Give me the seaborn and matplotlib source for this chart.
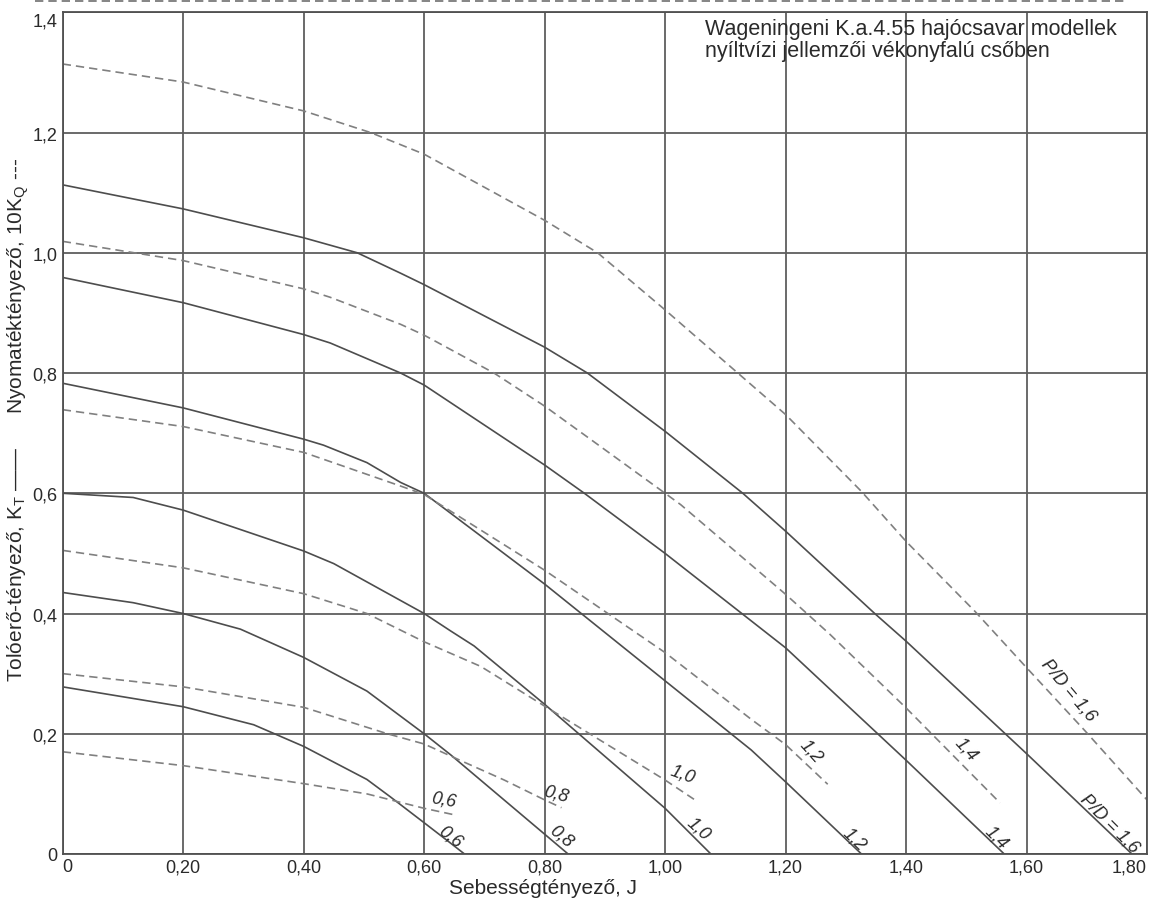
import matplotlib
matplotlib.use("Agg")
import matplotlib.pyplot as plt
import seaborn as sns
import pandas as pd
from matplotlib.lines import Line2D

# %% data: J vs K_T (solid) and 10K_Q (dashed) per P/D
J_kt_06 = [0, 0.2, 0.317, 0.4, 0.505, 0.544, 0.6, 0.644, 0.667]
kt_06 = [0.278, 0.245, 0.215, 0.179, 0.124, 0.095, 0.052, 0.018, 0.0]
J_kq_06 = [0, 0.2, 0.4, 0.505, 0.6, 0.651]
kq_06 = [0.170, 0.147, 0.117, 0.100, 0.076, 0.065]

J_kt_08 = [0, 0.117, 0.2, 0.295, 0.4, 0.505, 0.6, 0.644, 0.8, 0.839]
kt_08 = [0.435, 0.418, 0.400, 0.374, 0.327, 0.271, 0.200, 0.165, 0.033, 0.0]
J_kq_08 = [0, 0.2, 0.4, 0.539, 0.6, 0.666, 0.733, 0.8, 0.828]
kq_08 = [0.300, 0.278, 0.244, 0.200, 0.183, 0.153, 0.123, 0.090, 0.077]

J_kt_10 = [0, 0.117, 0.2, 0.4, 0.45, 0.6, 0.644, 0.683, 0.8, 1.0, 1.076]
kt_10 = [0.600, 0.593, 0.572, 0.504, 0.483, 0.400, 0.371, 0.346, 0.249, 0.076, 0.0]
J_kq_10 = [0, 0.2, 0.4, 0.505, 0.6, 0.694, 0.8, 1.0, 1.048]
kq_10 = [0.505, 0.476, 0.433, 0.400, 0.353, 0.312, 0.246, 0.123, 0.091]

J_kt_12 = [0, 0.2, 0.4, 0.433, 0.505, 0.561, 0.6, 0.8, 1.0, 1.143, 1.2, 1.326]
kt_12 = [0.783, 0.742, 0.690, 0.680, 0.651, 0.618, 0.600, 0.449, 0.288, 0.173, 0.120, 0.0]
J_kq_12 = [0, 0.2, 0.4, 0.561, 0.6, 0.8, 1.0, 1.143, 1.2, 1.27]
kq_12 = [0.739, 0.711, 0.668, 0.612, 0.598, 0.472, 0.335, 0.224, 0.182, 0.116]

J_kt_14 = [0, 0.2, 0.4, 0.444, 0.561, 0.6, 0.8, 0.866, 1.0, 1.2, 1.4, 1.563]
kt_14 = [0.959, 0.917, 0.864, 0.850, 0.800, 0.780, 0.647, 0.600, 0.500, 0.343, 0.156, 0.0]
J_kq_14 = [0, 0.2, 0.4, 0.444, 0.561, 0.6, 0.716, 0.8, 1.0, 1.026, 1.2, 1.273, 1.4, 1.556]
kq_14 = [1.019, 0.987, 0.940, 0.926, 0.881, 0.863, 0.800, 0.745, 0.600, 0.581, 0.432, 0.366, 0.243, 0.085]

J_kt_16 = [0, 0.2, 0.4, 0.489, 0.561, 0.6, 0.8, 0.871, 1.0, 1.129, 1.2, 1.348, 1.4, 1.6, 1.775]
kt_16 = [1.113, 1.073, 1.025, 1.000, 0.966, 0.947, 0.843, 0.800, 0.703, 0.600, 0.537, 0.400, 0.354, 0.167, 0.0]
J_kq_16 = [0, 0.2, 0.4, 0.511, 0.6, 0.8, 0.888, 1.0, 1.2, 1.326, 1.4, 1.514, 1.6, 1.697, 1.8]
kq_16 = [1.314, 1.284, 1.236, 1.200, 1.164, 1.054, 1.000, 0.905, 0.731, 0.603, 0.520, 0.404, 0.310, 0.205, 0.090]

x_ticks = [0, 0.2, 0.4, 0.6, 0.8, 1.0, 1.2, 1.4, 1.6, 1.8]
x_tick_labels = ["0", "0,20", "0,40", "0,60", "0,80", "1,00", "1,20", "1,40", "1,60", "1,80"]
y_ticks = [0, 0.2, 0.4, 0.6, 0.8, 1.0, 1.2, 1.4]
y_tick_labels = ["0", "0,2", "0,4", "0,6", "0,8", "1,0", "1,2", "1,4"]

solid_curves = [(J_kt_06, kt_06), (J_kt_08, kt_08), (J_kt_10, kt_10),
                (J_kt_12, kt_12), (J_kt_14, kt_14), (J_kt_16, kt_16)]
dashed_curves = [(J_kq_06, kq_06), (J_kq_08, kq_08), (J_kq_10, kq_10),
                 (J_kq_12, kq_12), (J_kq_14, kq_14), (J_kq_16, kq_16)]

# curve labels: text, J, y, rotation
solid_labels = [("0,6", 0.644, 0.029, -38), ("0,8", 0.827, 0.031, -40),
                ("1,0", 1.055, 0.043, -42), ("1,2", 1.314, 0.026, -44),
                ("1,4", 1.550, 0.029, -45), ("P/D = 1,6", 1.738, 0.052, -45)]
dashed_labels = [("0,6", 0.632, 0.091, -10), ("0,8", 0.819, 0.100, -15),
                 ("1,0", 1.030, 0.133, -20), ("1,2", 1.243, 0.172, -48),
                 ("1,4", 1.500, 0.176, -48), ("P/D = 1,6", 1.670, 0.273, -50)]

# %% style
sns.set_theme(style="white", rc={"axes.edgecolor": "#505050", "axes.linewidth": 1.3})
plt.rcParams['font.family'] = ['Liberation Sans', 'DejaVu Sans']
plt.rcParams['mathtext.fontset'] = 'custom'
plt.rcParams['mathtext.rm'] = 'Liberation Sans'
plt.rcParams['mathtext.it'] = 'Liberation Sans:italic'

TXT = '#2a2a2a'
SOLID = '#4d4d4d'
DASH = '#808080'

fig = plt.figure(figsize=(11.51, 9.03), dpi=100)
W, H = 1151, 903
ax = fig.add_axes([62.7 / W, 48 / H, (1147 - 62.7) / W, (855 - 13.3) / H])

for jj, vv in solid_curves:
    sns.lineplot(x=jj, y=vv, ax=ax, color=SOLID, lw=1.2, sort=False, estimator=None)
for jj, vv in dashed_curves:
    sns.lineplot(x=jj, y=vv, ax=ax, color=DASH, lw=1.2, sort=False, estimator=None)
    ax.lines[-1].set_dashes((5, 3))

for t, xj, yv, rot in solid_labels + dashed_labels:
    ax.text(xj, yv, t, rotation=rot, rotation_mode='anchor', ha='center', va='center',
            fontsize=13, color=TXT, style='italic')

ax.set_xlim(0, 1.8)
ax.set_ylim(0, 1.4)
ax.set_xticks(x_ticks)
ax.set_xticklabels(x_tick_labels)
ax.set_yticks(y_ticks)
ax.set_yticklabels(y_tick_labels)
ax.tick_params(length=0, labelsize=13, labelcolor=TXT)
ax.tick_params(axis='x', pad=3)
ax.tick_params(axis='y', pad=4)
xl = ax.get_xticklabels()
xl[0].set_ha('left')
xl[-1].set_ha('right')
ax.get_yticklabels()[-1].set_va('top')
ax.grid(True, color='#5e5e5e', lw=1.3)
ax.set_axisbelow(True)
ax.set_xlabel("")
ax.set_ylabel("")

ax.text((705 - 62.7) / (1147 - 62.7), (855 - 19) / (855 - 13.3),
        "Wageningeni K.a.4.55 hajócsavar modellek\nnyíltvízi jellemzői vékonyfalú csőben",
        transform=ax.transAxes, ha='left', va='top', fontsize=15.5, color=TXT, linespacing=1.05)

fig.text(543 / W, 1 - 889 / H, "Sebességtényező, J", ha='center', va='center',
         fontsize=15, color=TXT)
fig.text(18 / W, 1 - 420 / H,
         r"Tolóerő-tényező, K$_\mathregular{T}$ ——      Nyomatéktényező, 10K$_\mathregular{Q}$ ---",
         rotation=90, ha='center', va='center', fontsize=15, color=TXT)

# dashed scan rule along the top edge
fig.add_artist(Line2D([35 / W, 1128 / W], [1 - 1.5 / H, 1 - 1.5 / H], transform=fig.transFigure,
                      color='#707070', lw=1.2, dashes=(5, 3)))

fig.savefig("out.png", dpi=100)
